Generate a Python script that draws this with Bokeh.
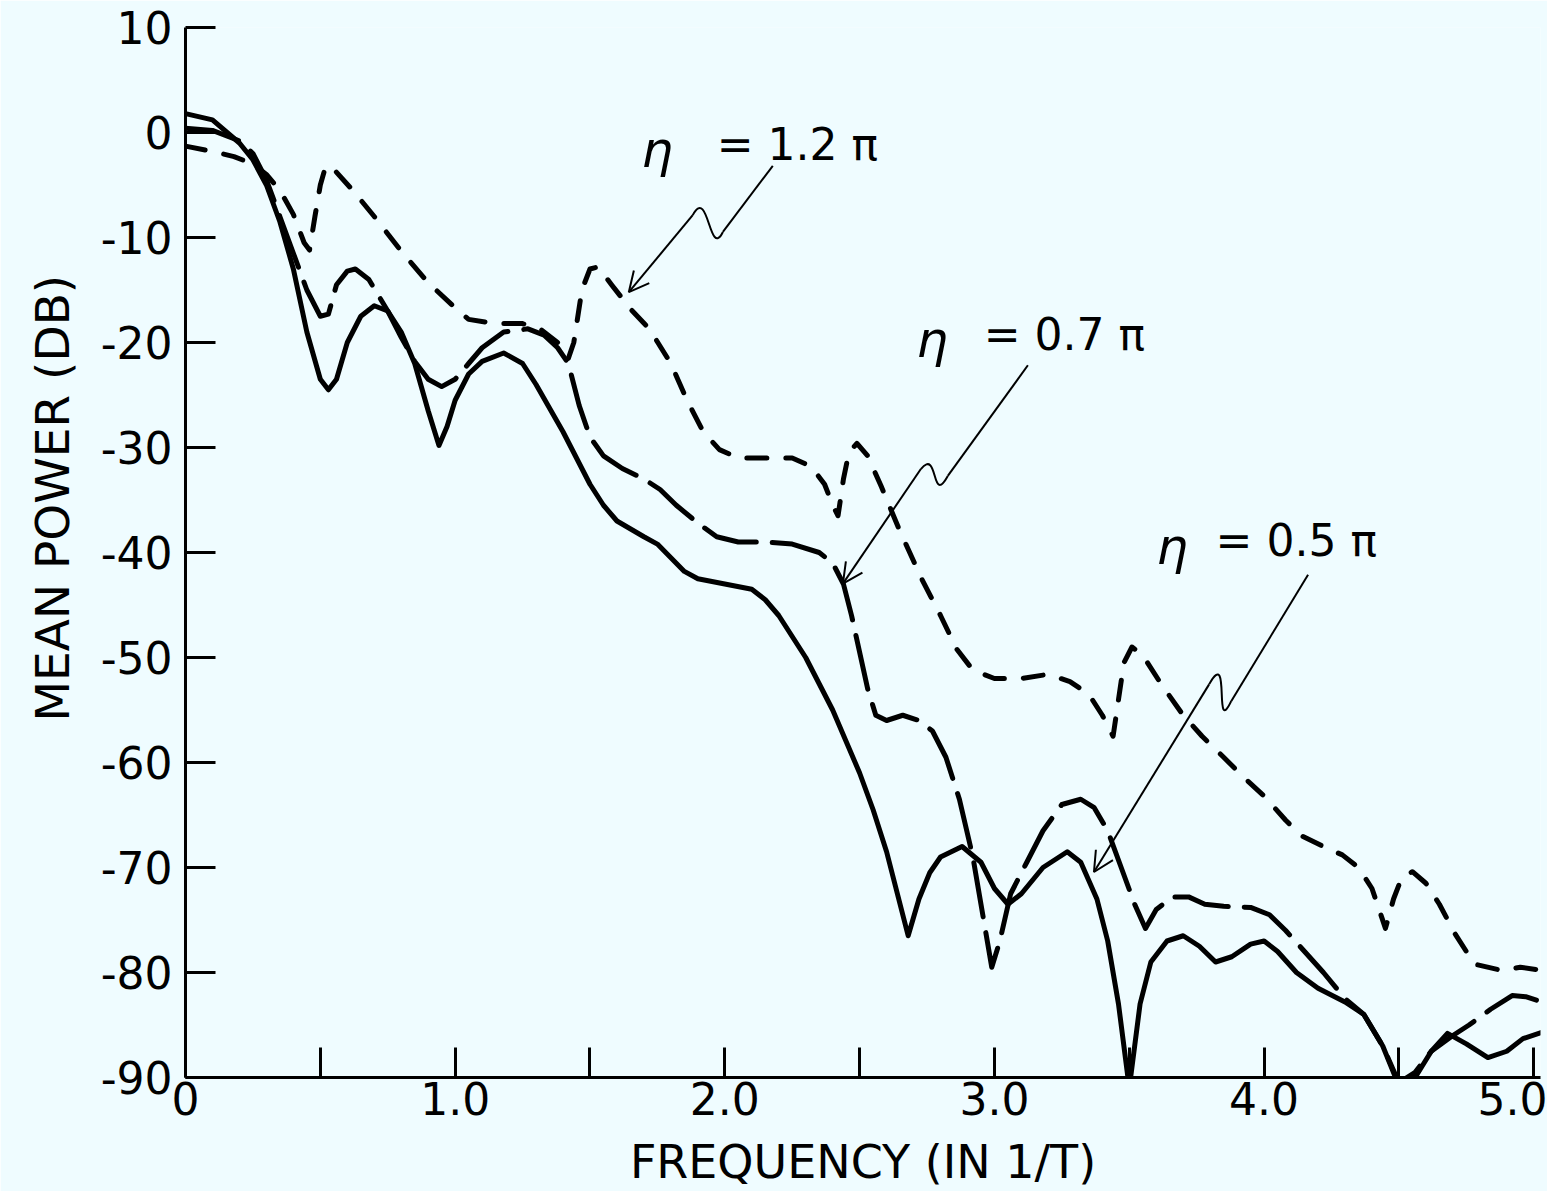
from bokeh.plotting import figure
from bokeh.models import Range1d, FixedTicker, Arrow, OpenHead, Title
from bokeh.core.properties import value
from bokeh.embed import file_html
from bokeh.resources import INLINE

# ---------------- data ----------------
freq_12 = [0.00, 0.10, 0.18, 0.25, 0.30, 0.35, 0.40, 0.44, 0.46, 0.48, 0.50, 0.52, 0.55,
           0.62, 0.70, 0.80, 0.90, 1.00, 1.05, 1.15, 1.25, 1.32, 1.38, 1.42, 1.44, 1.47,
           1.50, 1.53, 1.58, 1.65, 1.72, 1.80, 1.86, 1.92, 1.98, 2.05, 2.15, 2.25, 2.32,
           2.37, 2.40, 2.42, 2.44, 2.46, 2.49, 2.53, 2.58, 2.65, 2.73, 2.80, 2.86, 2.92,
           3.00, 3.10, 3.20, 3.28, 3.35, 3.40, 3.44, 3.46, 3.48, 3.51, 3.55, 3.62, 3.70,
           3.77, 3.85, 3.92, 4.00, 4.08, 4.14, 4.22, 4.29, 4.35, 4.40, 4.45, 4.48, 4.51,
           4.55, 4.60, 4.65, 4.71, 4.78, 4.88, 4.95, 5.03]
power_12 = [-1.3, -1.8, -2.3, -3.0, -4.0, -5.5, -7.8, -10.5, -11.2, -8.0, -5.0, -3.2, -3.5,
            -5.5, -8.0, -11.3, -14.3, -16.7, -17.8, -18.2, -18.2, -18.8, -20.0, -21.5, -20.0,
            -15.0, -13.0, -12.8, -14.5, -16.8, -18.7, -22.0, -25.5, -28.5, -30.2, -31.0,
            -31.0, -31.0, -31.8, -33.5, -35.5, -36.5, -33.0, -30.5, -29.6, -30.8, -33.7,
            -38.0, -42.5, -46.0, -49.2, -51.2, -52.0, -52.0, -51.6, -52.3, -53.5, -55.5,
            -57.5, -54.0, -50.5, -49.0, -49.8, -52.6, -55.5, -57.5, -59.5, -61.3, -63.2,
            -65.5, -67.0, -68.0, -68.8, -70.0, -72.0, -75.8, -73.0, -71.0, -70.4, -71.5,
            -73.5, -76.4, -79.2, -79.8, -79.5, -79.8]

freq_07 = [0.00, 0.10, 0.20, 0.25, 0.30, 0.35, 0.40, 0.45, 0.50, 0.53, 0.56, 0.60, 0.63,
           0.68, 0.75, 0.80, 0.85, 0.90, 0.95, 1.00, 1.05, 1.10, 1.18, 1.27, 1.33, 1.38,
           1.42, 1.46, 1.50, 1.55, 1.62, 1.70, 1.76, 1.82, 1.90, 1.97, 2.05, 2.15, 2.25,
           2.35, 2.40, 2.44, 2.47, 2.50, 2.53, 2.56, 2.60, 2.66, 2.72, 2.77, 2.82, 2.87,
           2.92, 2.96, 2.99, 3.02, 3.06, 3.12, 3.18, 3.25, 3.32, 3.37, 3.42, 3.47, 3.52,
           3.56, 3.60, 3.66, 3.72, 3.78, 3.85, 3.95, 4.02, 4.08, 4.15, 4.22, 4.30, 4.37,
           4.44, 4.50, 4.56, 4.62, 4.70, 4.76, 4.84, 4.92, 4.97, 5.03]
power_07 = [0.4, 0.2, -0.8, -2.0, -4.5, -8.0, -11.5, -15.0, -17.5, -17.3, -14.5, -13.2,
            -13.0, -14.0, -17.0, -19.5, -21.8, -23.5, -24.2, -23.5, -22.0, -20.5, -19.0,
            -18.7, -19.3, -20.5, -22.0, -26.0, -29.0, -30.8, -32.0, -33.0, -34.0, -35.5,
            -37.2, -38.5, -39.0, -39.0, -39.2, -40.0, -41.0, -43.0, -46.0, -49.5, -53.0,
            -55.5, -56.0, -55.5, -56.0, -57.0, -59.5, -63.5, -69.0, -75.0, -79.5, -77.0,
            -72.5, -69.5, -66.5, -64.0, -63.5, -64.3, -66.5, -70.0, -73.5, -75.8, -74.0,
            -72.8, -72.8, -73.5, -73.7, -73.8, -74.5, -76.0, -78.0, -80.0, -82.5, -84.0,
            -87.0, -90.5, -89.5, -87.5, -86.0, -85.0, -83.5, -82.2, -82.3, -82.8]

freq_05 = [0.00, 0.10, 0.20, 0.25, 0.30, 0.35, 0.40, 0.45, 0.50, 0.53, 0.56, 0.60, 0.65,
           0.70, 0.75, 0.80, 0.85, 0.90, 0.94, 0.97, 1.00, 1.05, 1.10, 1.18, 1.25, 1.30,
           1.40, 1.50, 1.55, 1.60, 1.70, 1.75, 1.80, 1.85, 1.90, 2.00, 2.10, 2.15, 2.20,
           2.30, 2.35, 2.40, 2.45, 2.50, 2.55, 2.60, 2.64, 2.68, 2.72, 2.76, 2.80, 2.88,
           2.95, 3.00, 3.05, 3.10, 3.18, 3.27, 3.32, 3.38, 3.42, 3.46, 3.50, 3.54, 3.58,
           3.64, 3.70, 3.76, 3.82, 3.88, 3.95, 4.00, 4.05, 4.12, 4.20, 4.30, 4.37, 4.44,
           4.50, 4.56, 4.62, 4.68, 4.75, 4.83, 4.90, 4.96, 5.03]
power_05 = [1.8, 1.2, -1.0, -2.6, -5.0, -8.5, -13.0, -19.0, -23.5, -24.5, -23.5, -20.0,
            -17.5, -16.5, -17.0, -19.0, -22.0, -26.5, -29.8, -28.0, -25.5, -23.0, -21.8,
            -21.0, -22.0, -24.0, -28.5, -33.5, -35.5, -37.0, -38.5, -39.2, -40.5, -41.8,
            -42.5, -43.0, -43.5, -44.5, -46.0, -50.0, -52.5, -55.0, -58.0, -61.0, -64.5,
            -68.5, -72.5, -76.5, -73.0, -70.5, -69.0, -68.0, -69.5, -72.0, -73.5, -72.5,
            -70.0, -68.5, -69.5, -73.0, -77.0, -83.0, -91.0, -83.0, -79.0, -77.0, -76.5,
            -77.5, -79.0, -78.5, -77.3, -77.0, -78.0, -80.0, -81.5, -82.8, -84.0, -87.0,
            -90.8, -90.0, -87.5, -85.8, -86.8, -88.1, -87.5, -86.3, -85.7]

x_tick_values = [0, 1, 2, 3, 4, 5]
x_tick_labels = ["0", "1.0", "2.0", "3.0", "4.0", "5.0"]
x_minor_ticks = [0.5, 1.5, 2.5, 3.5, 4.5]
y_tick_values = [-90, -80, -70, -60, -50, -40, -30, -20, -10, 0, 10]
y_tick_labels = ["-90", "-80", "-70", "-60", "-50", "-40", "-30", "-20", "-10", "0", "10"]

curve_names = ["= 1.2 π", "= 0.7 π", "= 0.5 π"]
x_title = "FREQUENCY (IN 1/T)"
y_title = "MEAN POWER (DB)"

# ---------------- styling ----------------
BG = "#effcff"
INK = "#000000"
FONT = "DejaVu Sans"

p = figure(width=1547, height=1191, output_backend="svg", toolbar_location=None,
           x_range=Range1d(0, 5.025), y_range=Range1d(-90, 10),
           min_border_left=185, min_border_right=7, min_border_top=27,
           min_border_bottom=113,
           background_fill_color=BG, border_fill_color=BG)
p.outline_line_color = None
p.grid.visible = False

xa = p.xaxis[0]
xa.ticker = FixedTicker(ticks=x_tick_values, minor_ticks=x_minor_ticks)
xa.major_label_overrides = {v: s for v, s in zip(x_tick_values, x_tick_labels)}
ya = p.yaxis[0]
ya.ticker = FixedTicker(ticks=y_tick_values)
ya.major_label_overrides = {v: s for v, s in zip(y_tick_values, y_tick_labels)}

for ax in (xa, ya):
    ax.axis_line_width = 3
    ax.axis_line_color = INK
    ax.major_tick_in = 30
    ax.major_tick_out = 0
    ax.major_tick_line_width = 3
    ax.major_tick_line_color = INK
    ax.minor_tick_in = 30
    ax.minor_tick_out = 0
    ax.minor_tick_line_width = 3
    ax.minor_tick_line_color = INK
    ax.major_label_text_font = FONT
    ax.major_label_text_font_size = "44px"
    ax.major_label_text_color = INK
    ax.axis_label_text_font = FONT
    ax.axis_label_text_font_style = "normal"
    ax.axis_label_text_color = INK

xa.axis_label = x_title
xa.axis_label_text_font_size = "46px"
xa.major_label_standoff = 4
xa.axis_label_standoff = 17
ya.major_label_standoff = 13

# vertical y-axis title, starting low and set above the frame centre as in the original
p.add_layout(Title(text=y_title, align="left", offset=356, standoff=36,
                   text_font=FONT, text_font_size="47px", text_font_style="normal",
                   text_color=INK), "left")

# ---------------- curves ----------------
p.line(freq_12, power_12, line_color=INK, line_width=5, line_dash="20 19",
       line_cap="round", line_join="round")
p.line(freq_07, power_07, line_color=INK, line_width=5, line_dash="55 16",
       line_cap="round", line_join="round")
p.line(freq_05, power_05, line_color=INK, line_width=5,
       line_cap="round", line_join="round")

# ---------------- labels with wavy leader arrows ----------------
eta_x = [1.69, 2.71, 3.60]
eq_x = [1.97, 2.96, 3.82]
label_y = [-1.1, -19.2, -38.9]
p.text(x=eta_x, y=[v - 0.6 for v in label_y], text=["η"] * 3,
       text_font=value(FONT), text_font_size="50px", text_font_style="italic",
       text_color=INK, text_baseline="middle", text_align="left")
p.text(x=eq_x, y=label_y, text=curve_names,
       text_font=value(FONT), text_font_size="44px",
       text_color=INK, text_baseline="middle", text_align="left")

leaders = [
    # start, hook-in, ctrl0, ctrl1, hook-out, arrow tip
    ((2.178, -3.17), (1.993, -9.47), (1.941, -12.11), (1.941, -5.05), (1.881, -7.87), (1.644, -15.21)),
    ((3.124, -22.17), (2.827, -32.71), (2.764, -35.63), (2.794, -29.98), (2.727, -32.05), (2.438, -42.96)),
    ((4.163, -42.12), (3.878, -54.16), (3.811, -57.73), (3.878, -48.80), (3.796, -52.56), (3.369, -70.43)),
]
for a, b, c0, c1, d, tip in leaders:
    p.line([a[0], b[0]], [a[1], b[1]], line_color=INK, line_width=2)
    p.bezier(x0=[b[0]], y0=[b[1]], x1=[d[0]], y1=[d[1]],
             cx0=[c0[0]], cy0=[c0[1]], cx1=[c1[0]], cy1=[c1[1]],
             line_color=INK, line_width=2)
    p.add_layout(Arrow(end=OpenHead(size=20, line_width=2, line_color=INK),
                       x_start=d[0], y_start=d[1], x_end=tip[0], y_end=tip[1],
                       line_color=INK, line_width=2))

open("out.html", "w").write(file_html(p, INLINE))
